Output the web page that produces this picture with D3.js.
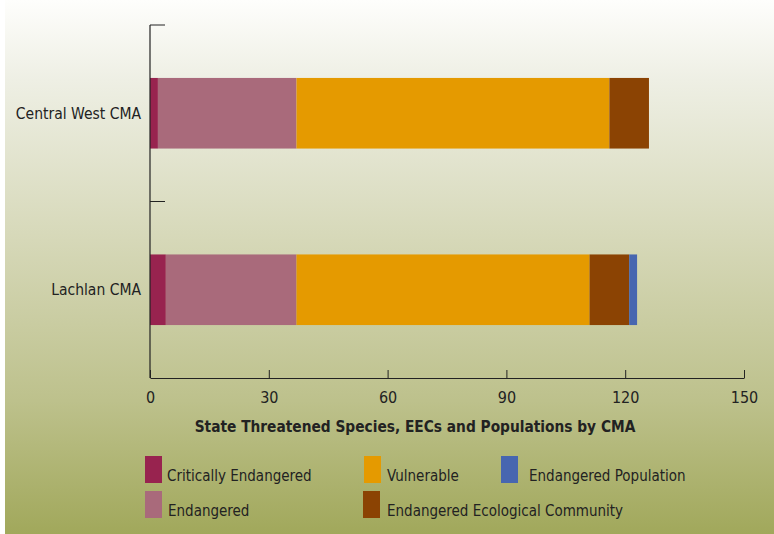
<!DOCTYPE html>
<html>
<head>
<meta charset="utf-8">
<script src="https://cdn.jsdelivr.net/npm/d3@7"></script>
<style>
  body { margin: 0; background: #fff; }
  text { font-family: "DejaVu Sans Condensed", "Liberation Sans Narrow", sans-serif; }
</style>
</head>
<body>
<script>
const categories = ["Central West CMA", "Lachlan CMA"];
const seriesNames = ["Critically Endangered", "Endangered", "Vulnerable", "Endangered Ecological Community", "Endangered Population"];
const criticallyEndangered = [2, 4];
const endangered = [35, 33];
const vulnerable = [79, 74];
const eec = [10, 10];
const endangeredPopulation = [0, 2];
const xTicks = [0, 30, 60, 90, 120, 150];
const colors = ["#98234F", "#A96A7B", "#E59A00", "#8B4303", "#4766B0"];

const width = 774, height = 534;
const svg = d3.select("body").append("svg").attr("width", width).attr("height", height);

const grad = svg.append("defs").append("linearGradient")
  .attr("id", "bg").attr("x1", 0).attr("y1", 0).attr("x2", 0).attr("y2", 1);
[[0, "#FEFEFC"], [0.15, "#EEEFE4"], [0.45, "#D6D8B8"], [0.75, "#BDC18C"], [1, "#A1A85B"]]
  .forEach(([o, c]) => grad.append("stop").attr("offset", o).attr("stop-color", c));
svg.append("rect").attr("x", 5).attr("y", 0).attr("width", width - 5).attr("height", height).attr("fill", "url(#bg)");

const rows = categories.map((c, i) => ({
  cat: c,
  "Critically Endangered": criticallyEndangered[i],
  "Endangered": endangered[i],
  "Vulnerable": vulnerable[i],
  "Endangered Ecological Community": eec[i],
  "Endangered Population": endangeredPopulation[i]
}));
const stacked = d3.stack().keys(seriesNames)(rows);

const x = d3.scaleLinear().domain([0, 150]).range([150, 744]);
const y = d3.scaleBand().domain(categories).range([25, 378]);
const barH = y.bandwidth() * 0.4;

svg.append("g")
  .selectAll("g")
  .data(stacked)
  .join("g")
  .attr("fill", (d, i) => colors[i])
  .selectAll("rect")
  .data((d) => d)
  .join("rect")
  .attr("x", (d) => x(d[0]))
  .attr("width", (d) => x(d[1]) - x(d[0]))
  .attr("y", (d) => y(d.data.cat) + (y.bandwidth() - barH) / 2)
  .attr("height", barH);

// x axis, ticks pointing up
const xAxis = svg.append("g")
  .attr("transform", "translate(0,378)")
  .call(d3.axisBottom(x).tickValues(xTicks).tickSizeInner(-8).tickSizeOuter(0).tickPadding(0));
xAxis.select(".domain").attr("stroke", "#222").attr("stroke-width", 1.2);
xAxis.selectAll(".tick line").attr("stroke", "#222");
xAxis.selectAll(".tick text").attr("y", 19).attr("dy", "0.35em")
  .attr("font-size", 16).attr("fill", "#222")
  .style("font-family", '"DejaVu Sans Condensed", sans-serif');

// y axis: band boundaries ticks pointing right
const yAxis = svg.append("g").attr("transform", "translate(150,0)");
yAxis.append("line").attr("x1", 0).attr("x2", 0).attr("y1", 25).attr("y2", 378)
  .attr("stroke", "#222").attr("stroke-width", 1.2);
yAxis.selectAll("line.sep")
  .data(categories)
  .join("line")
  .attr("class", "sep")
  .attr("x1", 0).attr("x2", 15)
  .attr("y1", (d) => y(d)).attr("y2", (d) => y(d))
  .attr("stroke", "#222");
svg.append("g").selectAll("text")
  .data(categories)
  .join("text")
  .attr("x", 141)
  .attr("y", (d) => y(d) + y.bandwidth() / 2)
  .attr("dy", "0.35em")
  .attr("text-anchor", "end")
  .attr("font-size", 15.5)
  .attr("fill", "#222")
  .text((d) => d);

svg.append("text")
  .attr("x", 415).attr("y", 427).attr("dy", "0.35em")
  .attr("text-anchor", "middle")
  .attr("font-size", 15.3).attr("font-weight", "bold").attr("fill", "#222")
  .text("State Threatened Species, EECs and Populations by CMA");

// legend
const legendPos = [
  { name: "Critically Endangered", sx: 145, tx: 167, y: 456 },
  { name: "Endangered", sx: 145, tx: 168, y: 491 },
  { name: "Vulnerable", sx: 364, tx: 387, y: 456 },
  { name: "Endangered Ecological Community", sx: 363, tx: 387, y: 491 },
  { name: "Endangered Population", sx: 501, tx: 529, y: 456 }
];
const legend = svg.append("g").selectAll("g")
  .data(legendPos)
  .join("g");
legend.append("rect")
  .attr("x", (d) => d.sx).attr("y", (d) => d.y)
  .attr("width", 17).attr("height", 27)
  .attr("fill", (d) => colors[seriesNames.indexOf(d.name)]);
legend.append("text")
  .attr("x", (d) => d.tx).attr("y", (d) => d.y + 20)
  .attr("dy", "0.35em")
  .attr("font-size", 15).attr("fill", "#222")
  .text((d) => d.name);
</script>
</body>
</html>
